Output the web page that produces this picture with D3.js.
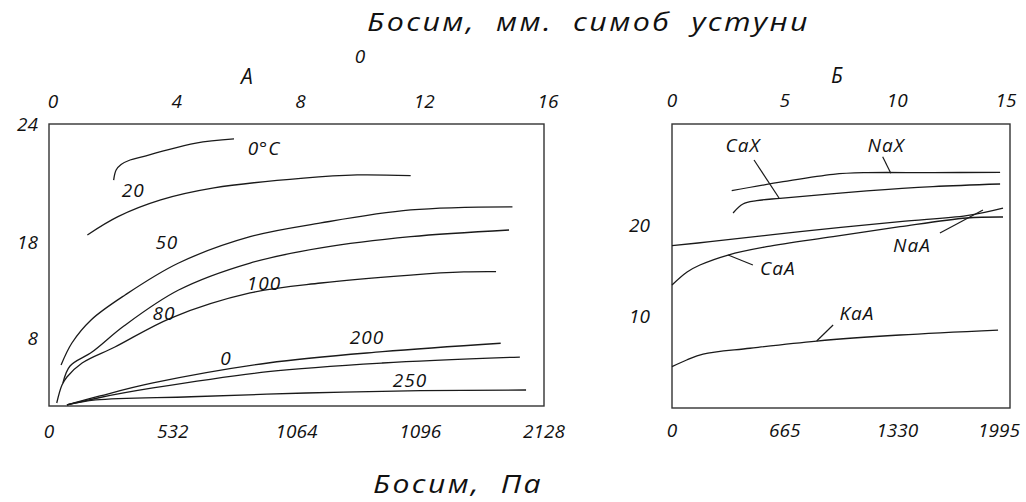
<!DOCTYPE html>
<html>
<head>
<meta charset="utf-8">
<script src="https://cdn.jsdelivr.net/npm/d3@7"></script>
<style>
  html, body { margin: 0; padding: 0; background: #fff; }
  svg text { font-family: "Open Sans", "DejaVu Sans", sans-serif; font-style: italic; fill: #111; }
</style>
</head>
<body>
<svg id="chart" width="1026" height="502"></svg>
<script>
// ---- Panel A: isotherms, pressure in mm Hg (top) and Pa (bottom) ----
const aTopTicks = [0, 4, 8, 12, 16];
const aBottomTicks = [0, 4, 8, 12, 16];
const aBottomLabels = ["0", "532", "1064", "1096", "2128"];
const aYTicks = [24, 18, 8];

const a0C   = [[2.09,21.15],[2.17,21.66],[2.33,21.94],[2.62,22.17],[3.04,22.34],[3.61,22.59],[4.75,23.03],[5.98,23.24]];
const a20   = [[1.24,18.36],[2.23,19.29],[3.61,20.14],[5.33,20.75],[8.23,21.25],[9.96,21.41],[11.69,21.37]];
const a50   = [[0.39,4.82],[0.74,7.41],[1.36,9.88],[2.46,12.48],[4.19,15.81],[6.50,18.27],[8.79,18.97],[11.69,19.63],[14.98,19.79]];
const a80   = [[0.45,2.71],[0.68,4.71],[1.39,6.35],[2.42,9.25],[4.19,13.0],[6.50,15.81],[8.79,17.38],[11.69,18.27],[14.87,18.61]];
const a100  = [[0.25,0.35],[0.42,2.47],[0.58,3.41],[1.07,5.06],[2.13,6.94],[3.94,10.08],[6.50,12.69],[8.79,13.73],[11.69,14.56],[13.41,14.88],[14.45,14.91]];
const a200  = [[0.58,0.12],[1.65,1.18],[3.36,2.71],[7.08,5.06],[10.78,6.39],[14.60,7.38]];
const a150  = [[0.58,0.12],[1.65,1.0],[3.36,2.12],[7.08,4.04],[10.78,5.06],[15.22,5.76]];
const a250  = [[0.58,0.12],[1.51,0.71],[4.59,1.09],[8.31,1.53],[12.02,1.80],[15.42,1.88]];
const aSeries = [a0C, a20, a50, a80, a100, a200, a150, a250];

const aCurveLabels = ["0°C", "20", "50", "100", "80", "200", "0", "250"];
const aCurveLabelX = [6.95, 2.72, 3.81, 6.95, 3.72, 10.28, 5.72, 11.67];
const aCurveLabelY = [22.78, 20.64, 18.0, 13.73, 10.6, 8.12, 5.65, 3.06];

// ---- Panel Б: zeolites ----
const bTopTicks = [0, 5, 10, 15];
const bBottomLabels = ["0", "665", "1330", "1995"];
const bYTicks = [20, 10];

const bNaX = [[2.65,23.72],[4.93,24.70],[7.15,25.51],[8.64,25.69],[11.58,25.69],[14.56,25.73]];
const bCaX = [[2.71,21.29],[3.15,22.27],[3.76,22.63],[4.79,22.89],[8.64,23.69],[11.58,24.16],[14.56,24.45]];
const bNaA = [[0,17.72],[1.69,18.15],[5.68,19.25],[10.12,20.34],[13.08,21.0],[14.69,21.83]];
const bCaA = [[0,13.43],[0.67,14.85],[1.24,15.61],[2.49,16.70],[4.2,17.61],[7.15,18.70],[10.12,19.79],[13.08,20.74],[14.69,20.85]];
const bKaA = [[0,4.51],[0.65,5.24],[1.38,5.89],[3.46,6.52],[6.42,7.31],[10.12,7.97],[14.47,8.51]];
const bSeries = [bNaX, bCaX, bNaA, bCaA, bKaA];

const bCurveLabels = ["CaX", "NaX", "NaA", "CaA", "KaA"];
const bCurveLabelX = [3.15, 9.50, 10.65, 4.70, 8.21];
const bCurveLabelY = [28.71, 28.71, 17.79, 15.28, 10.37];
// leader lines: [x1, y1, x2, y2] in data units
const bLeaders = [
  [3.64, 27.07, 4.75, 22.92],
  [9.35, 27.43, 9.71, 25.62],
  [11.89, 19.10, 13.80, 21.61],
  [2.49, 16.70, 3.59, 15.61],
  [6.42, 7.31, 7.15, 9.06]
];

const svg = d3.select("#chart");
const ink = "#1a1a1a";
const tickSize = 19;

// Scales
const xA = d3.scaleLinear().domain([0, 16]).range([49, 544]);
const yA = d3.scaleLinear().domain([0, 8, 18, 24]).range([406, 338, 242, 124]);
const xB = d3.scaleLinear().domain([0, 15]).range([672, 1010]);
const yB = d3.scaleLinear().domain([0, 31]).range([408, 124]);

function frame(x, y) {
  const [x0, x1] = x.range();
  const r = y.range();
  const yBot = r[0], yTop = r[r.length - 1];
  svg.append("rect")
    .attr("x", x0).attr("y", yTop)
    .attr("width", x1 - x0).attr("height", yBot - yTop)
    .attr("fill", "none").attr("stroke", "#333").attr("stroke-width", 1.4);
}

function curves(series, x, y) {
  const line = d3.line()
    .x(d => x(d[0])).y(d => y(d[1]))
    .curve(d3.curveCatmullRom.alpha(0.5));
  svg.append("g").selectAll("path").data(series).join("path")
    .attr("d", line)
    .attr("fill", "none").attr("stroke", ink).attr("stroke-width", 1.3);
}

function texts(labels, xs, ys, x, y, size) {
  svg.append("g").selectAll("text").data(labels).join("text")
    .attr("x", (d, i) => x(xs[i])).attr("y", (d, i) => y(ys[i]))
    .attr("text-anchor", "middle").attr("dominant-baseline", "central")
    .attr("font-size", size).attr("letter-spacing", 1)
    .text(d => d);
}

// ---- Panel A ----
frame(xA, yA);
curves(aSeries, xA, yA);
texts(aCurveLabels, aCurveLabelX, aCurveLabelY, xA, yA, 19);

// top axis (mm Hg)
svg.append("g").selectAll("text").data(aTopTicks).join("text")
  .attr("x", d => xA(d) + 4).attr("y", 101)
  .attr("text-anchor", "middle").attr("dominant-baseline", "central")
  .attr("font-size", tickSize).text(d => d);
// bottom axis (Pa)
svg.append("g").selectAll("text").data(aBottomTicks).join("text")
  .attr("x", d => xA(d)).attr("y", 431)
  .attr("text-anchor", "middle").attr("dominant-baseline", "central")
  .attr("font-size", tickSize).text((d, i) => aBottomLabels[i]);
// left axis
svg.append("g").selectAll("text").data(aYTicks).join("text")
  .attr("x", 38).attr("y", d => yA(d))
  .attr("text-anchor", "end").attr("dominant-baseline", "central")
  .attr("font-size", tickSize).text(d => d);

svg.append("text").attr("x", 247).attr("y", 76)
  .attr("text-anchor", "middle").attr("dominant-baseline", "central")
  .attr("font-size", 21).text("A");
svg.append("text").attr("x", 360).attr("y", 56)
  .attr("text-anchor", "middle").attr("dominant-baseline", "central")
  .attr("font-size", tickSize).text("0");

// ---- Panel Б ----
frame(xB, yB);
curves(bSeries, xB, yB);
texts(bCurveLabels, bCurveLabelX, bCurveLabelY, xB, yB, 19);
svg.append("g").selectAll("line").data(bLeaders).join("line")
  .attr("x1", d => xB(d[0])).attr("y1", d => yB(d[1]))
  .attr("x2", d => xB(d[2])).attr("y2", d => yB(d[3]))
  .attr("stroke", ink).attr("stroke-width", 1.2);

svg.append("g").selectAll("text").data(bTopTicks).join("text")
  .attr("x", d => Math.min(xB(d), 1006)).attr("y", 100)
  .attr("text-anchor", "middle").attr("dominant-baseline", "central")
  .attr("font-size", tickSize).text(d => d);
svg.append("g").selectAll("text").data(bTopTicks).join("text")
  .attr("x", d => Math.min(xB(d), 999)).attr("y", 430)
  .attr("text-anchor", "middle").attr("dominant-baseline", "central")
  .attr("font-size", tickSize).text((d, i) => bBottomLabels[i]);
svg.append("g").selectAll("text").data(bYTicks).join("text")
  .attr("x", 650).attr("y", d => yB(d))
  .attr("text-anchor", "end").attr("dominant-baseline", "central")
  .attr("font-size", tickSize).text(d => d);

svg.append("text").attr("x", 837).attr("y", 75)
  .attr("text-anchor", "middle").attr("dominant-baseline", "central")
  .attr("font-size", 21).text("Б");

// ---- Axis titles (wide drafting lettering) ----
svg.append("text").attr("x", 367).attr("y", 31)
  .attr("font-size", 25).attr("letter-spacing", 2).attr("word-spacing", 8)
  .attr("textLength", 443).attr("lengthAdjust", "spacingAndGlyphs")
  .text("Босим, мм. симоб устуни");
svg.append("text").attr("x", 373).attr("y", 493)
  .attr("font-size", 25).attr("letter-spacing", 2).attr("word-spacing", 8)
  .attr("textLength", 170).attr("lengthAdjust", "spacingAndGlyphs")
  .text("Босим, Па");
</script>
</body>
</html>
